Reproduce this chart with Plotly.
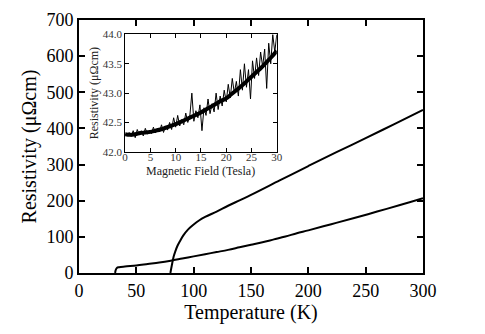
import plotly.graph_objects as go

# main panel: resistivity vs temperature
temp_low = [31.5, 32, 33, 35, 40, 50, 60, 70, 80, 90, 100, 110, 120, 130, 140, 150,
            160, 170, 180, 190, 200, 220, 240, 260, 280, 300]
rho_low = [0, 8, 14, 16, 18, 21, 25, 29, 34, 40, 46, 52, 58, 64, 71, 78,
           85, 93, 101, 110, 118, 135, 152, 170, 188, 207]

temp_high = [79.7, 81, 82.5, 84, 86, 88, 91, 95, 100, 105, 110, 120, 130, 140, 150,
             175, 200, 225, 250, 275, 300]
rho_high = [0, 22, 45, 60, 76, 88, 104, 120, 134, 146, 155, 170, 186, 201, 216,
            256, 296, 335, 373, 412, 451]

# inset: magnetoresistance
field_trend = list(range(0, 31))
rho_trend = [42.30, 42.29, 42.30, 42.32, 42.33, 42.34, 42.36, 42.38, 42.41, 42.44,
             42.47, 42.51, 42.55, 42.59, 42.63, 42.67, 42.72, 42.77, 42.82, 42.87,
             42.91, 42.98, 43.05, 43.12, 43.20, 43.28, 43.36, 43.44, 43.53, 43.62, 43.72]

field_noisy = [round(0.4 * i, 1) for i in range(76)]
rho_noisy = [42.30, 42.27, 42.33, 42.26, 42.36, 42.24, 42.38, 42.29, 42.36, 42.27,
             42.40, 42.30, 42.37, 42.31, 42.42, 42.32, 42.40, 42.34, 42.46, 42.33,
             42.44, 42.37, 42.50, 42.38, 42.58, 42.42, 42.62, 42.44, 42.55, 42.46,
             42.66, 42.50, 42.61, 43.00, 42.52, 42.70, 42.58, 42.80, 42.36, 42.75,
             42.62, 42.90, 42.65, 42.82, 42.68, 43.00, 42.72, 42.95, 42.78, 43.05,
             42.85, 43.15, 42.92, 43.25, 43.00, 43.20, 42.95, 43.40, 43.05, 43.50,
             43.10, 43.40, 42.90, 43.55, 43.25, 43.60, 43.30, 43.70, 43.45, 43.75,
             43.08, 43.85, 43.50, 44.00, 43.70, 44.00]

serif = "Liberation Serif"

fig = go.Figure()
fig.add_trace(go.Scatter(x=temp_low, y=rho_low, mode="lines",
                         line=dict(color="black", width=2), line_shape="spline"))
fig.add_trace(go.Scatter(x=temp_high, y=rho_high, mode="lines",
                         line=dict(color="black", width=2), line_shape="spline"))
fig.add_trace(go.Scatter(x=field_noisy, y=rho_noisy, mode="lines",
                         line=dict(color="black", width=1),
                         xaxis="x2", yaxis="y2"))
fig.add_trace(go.Scatter(x=field_trend, y=rho_trend, mode="lines",
                         line=dict(color="black", width=4), line_shape="spline",
                         xaxis="x2", yaxis="y2"))

main_ax = dict(showline=True, linecolor="black", linewidth=2, mirror="ticks",
               ticks="inside", ticklen=6, tickwidth=2, tickcolor="black",
               showgrid=False, zeroline=False, automargin=False,
               tickfont=dict(family=serif, size=18, color="black"))
inset_ax = dict(showline=True, linecolor="black", linewidth=1, mirror="ticks",
                ticks="inside", ticklen=4, tickwidth=1, tickcolor="black",
                showgrid=False, zeroline=False, automargin=False,
                tickfont=dict(family=serif, size=11, color="#333"))

# the page body adds an 8 px offset, so the figure is 8 px smaller on left/top
fig.update_layout(
    width=477, height=326,
    margin=dict(l=71, r=62, t=12, b=61),
    paper_bgcolor="white", plot_bgcolor="white",
    showlegend=False,
    xaxis=dict(main_ax, range=[0, 300], tickvals=[0, 50, 100, 150, 200, 250, 300],
               title=dict(text="Temperature (K)", standoff=1,
                          font=dict(family=serif, size=20, color="black"))),
    yaxis=dict(main_ax, range=[0, 700], dtick=100,
               title=dict(text="Resistivity (μΩcm)", standoff=4,
                          font=dict(family=serif, size=20, color="black"))),
    xaxis2=dict(inset_ax, domain=[0.134, 0.575], anchor="y2", range=[0, 30], dtick=5,
                ticklabelstandoff=-5),
    yaxis2=dict(inset_ax, domain=[0.479, 0.943], anchor="x2", range=[42.0, 44.0],
                tickvals=[42.0, 42.5, 43.0, 43.5, 44.0],
                ticktext=["42.0", "42.5", "43.0", "43.5", "44.0"],
                title=dict(text="Resistivity (μΩcm)", standoff=1,
                           font=dict(family=serif, size=12, color="#222"))),
)

fig.add_annotation(text="Magnetic Field (Tesla)", xref="x2 domain", yref="paper",
                   x=0.5, y=0.405, yanchor="middle", showarrow=False,
                   font=dict(family=serif, size=12, color="#222"))

fig.add_shape(type="rect", xref="x2 domain", yref="y2 domain", x0=0, x1=1, y0=0, y1=1,
              fillcolor="white", line=dict(width=0), layer="below")

fig.write_html("out.html")
